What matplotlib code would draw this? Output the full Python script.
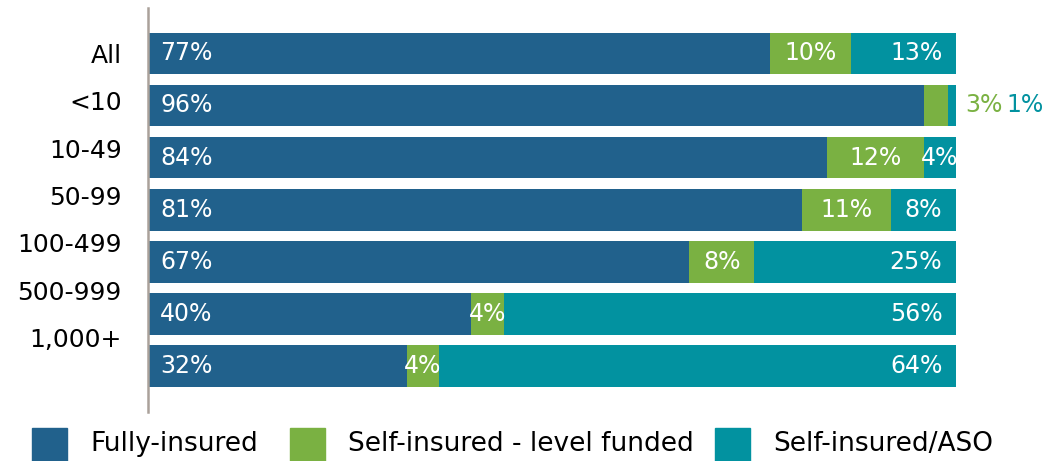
import matplotlib.pyplot as plt
from matplotlib.patches import Rectangle
import numpy as np

# Tipo de plano por porte da empresa (% de empresas)
categorias = ['All', '<10', '10-49', '50-99', '100-499', '500-999', '1,000+']
fully_insured = [77, 96, 84, 81, 67, 40, 32]
level_funded = [10, 3, 12, 11, 8, 4, 4]
self_aso = [13, 1, 4, 8, 25, 56, 64]
series = ['Fully-insured', 'Self-insured - level funded', 'Self-insured/ASO']

cor_azul = '#21618c'
cor_verde = '#7ab142'
cor_teal = '#0292a0'

plt.rcParams['font.family'] = ['DejaVu Sans']

W, H = 1056, 461
fig = plt.figure(figsize=(W / 100, H / 100), dpi=100)
ax = fig.add_axes([148 / W, 49 / H, 908 / W, 404 / H])

y = np.arange(len(categorias))
alt = 0.8

ax.barh(y, fully_insured, height=alt, color=cor_azul)
ax.barh(y, level_funded, height=alt, left=fully_insured, color=cor_verde)
inicio_aso = np.array(fully_insured) + np.array(level_funded)
ax.barh(y, self_aso, height=alt, left=inicio_aso, color=cor_teal)

tam = 17
for i in range(len(categorias)):
    f, l, s = fully_insured[i], level_funded[i], self_aso[i]
    ax.text(1.5, i, f'{f}%', color='white', fontsize=tam, va='center', ha='left')
    if l <= 3:
        # segmento muito estreito, rotulos ficam fora da barra
        ax.text(101.2, i, f'{l}%', color=cor_verde, fontsize=tam, va='center', ha='left')
        ax.text(106.2, i, f'{s}%', color=cor_teal, fontsize=tam, va='center', ha='left')
        continue
    ax.text(f + l / 2, i, f'{l}%', color='white', fontsize=tam, va='center', ha='center')
    if s < 6:
        ax.text(f + l + s / 2, i, f'{s}%', color='white', fontsize=tam, va='center', ha='center')
    else:
        ax.text(98.3, i, f'{s}%', color='white', fontsize=tam, va='center', ha='right')

ax.set_xlim(0, 908 / 8.08)
ax.set_ylim(6.88, -0.87)
ax.set_xticks([])
ax.set_yticks(y * 0.908)
ax.set_yticklabels(categorias, fontsize=18)
ax.tick_params(axis='y', length=0, pad=19)
for lado in ['top', 'right', 'bottom']:
    ax.spines[lado].set_visible(False)
ax.spines['left'].set_color('#aaa19a')
ax.spines['left'].set_linewidth(1.8)

# legenda desenhada a mao: quadrados colados na borda de baixo
pos_quadrado = [32, 290, 715]
for nome, cor, x0 in zip(series, [cor_azul, cor_verde, cor_teal], pos_quadrado):
    fig.add_artist(Rectangle((x0 / W, 0), 35 / W, 33 / H, transform=fig.transFigure,
                             color=cor, clip_on=False))
    fig.text((x0 + 58) / W, 1 - 444 / H, nome, fontsize=19, va='center', ha='left')

fig.savefig('out.png', dpi=100)
